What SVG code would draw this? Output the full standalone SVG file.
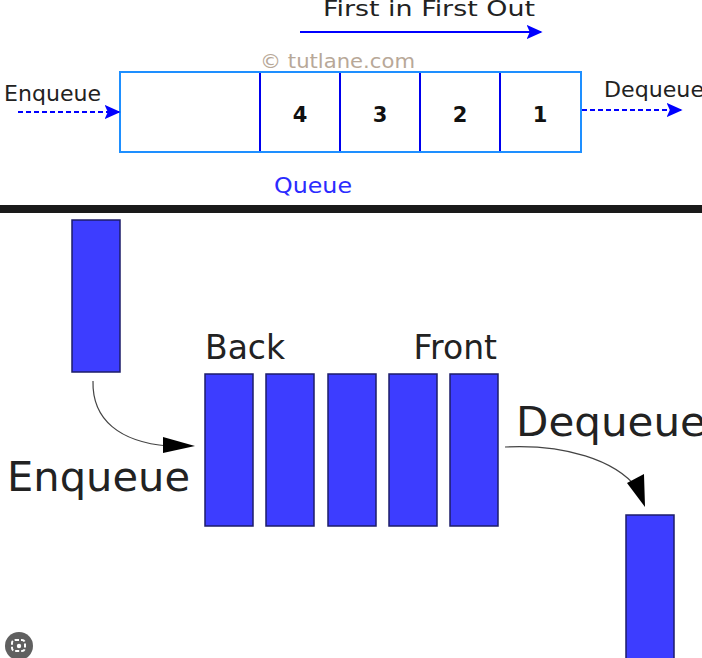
<svg xmlns="http://www.w3.org/2000/svg" width="702" height="658" viewBox="0 0 702 658">
<style>
.top{font-family:"DejaVu Sans","Liberation Sans",sans-serif;fill:#222}
.num{font-family:"DejaVu Sans","Liberation Sans",sans-serif;font-weight:bold;font-size:21px;fill:#111;text-anchor:middle}
.bot{font-family:"DejaVu Sans","Liberation Sans",sans-serif;fill:#222}
.bar{fill:#3d3dff;stroke:#1c1c6a;stroke-width:1.5}
.curve{fill:none;stroke:#444;stroke-width:1.2}
</style>
<defs>
<marker id="ab" viewBox="0 0 10 10" refX="9" refY="5" markerWidth="8" markerHeight="8" markerUnits="strokeWidth" orient="auto"><path d="M0,0.5 L10,5 L0,9.5 L2,5 z" fill="#0000ff"/></marker>
</defs>
<rect width="702" height="658" fill="#fff"/>

<!-- top diagram -->
<text class="top" x="323" y="16" font-size="22" textLength="212" lengthAdjust="spacingAndGlyphs">First in First Out</text>
<text x="260" y="68" font-family="DejaVu Sans,sans-serif" font-size="19" fill="#b8a898" textLength="155" lengthAdjust="spacingAndGlyphs">© tutlane.com</text>
<g id="queue-box">
<rect x="120" y="72" width="461" height="80" fill="#fff" stroke="#1e8fff" stroke-width="2"/>
<line x1="260" y1="73" x2="260" y2="151" stroke="#0000ee" stroke-width="2"/>
<line x1="340" y1="73" x2="340" y2="151" stroke="#0000ee" stroke-width="2"/>
<line x1="420" y1="73" x2="420" y2="151" stroke="#0000ee" stroke-width="2"/>
<line x1="500" y1="73" x2="500" y2="151" stroke="#0000ee" stroke-width="2"/>
<text class="num" x="300" y="122">4</text>
<text class="num" x="380" y="122">3</text>
<text class="num" x="460" y="122">2</text>
<text class="num" x="540" y="122">1</text>
</g>
<text class="top" x="4" y="101" font-size="22" textLength="97" lengthAdjust="spacingAndGlyphs">Enqueue</text>
<text class="top" x="604" y="97" font-size="22" textLength="100" lengthAdjust="spacingAndGlyphs">Dequeue</text>
<text x="313" y="193" font-family="DejaVu Sans,sans-serif" font-size="21" fill="#2b2bff" text-anchor="middle" textLength="78" lengthAdjust="spacingAndGlyphs">Queue</text>
<g id="top-connectors">
<line x1="300" y1="32" x2="541" y2="32" stroke="#0000ff" stroke-width="2" marker-end="url(#ab)"/>
<line x1="18" y1="112" x2="119" y2="112" stroke="#0000ff" stroke-width="2" stroke-dasharray="5,3" marker-end="url(#ab)"/>
<line x1="582" y1="110" x2="681" y2="110" stroke="#0000ff" stroke-width="2" stroke-dasharray="5,3" marker-end="url(#ab)"/>
</g>

<!-- divider -->
<rect x="0" y="205" width="702" height="8" fill="#1a1a1a"/>

<!-- bottom diagram -->
<g id="incoming"><rect class="bar" x="72" y="220" width="48" height="152"/></g>
<g id="q1"><rect class="bar" x="205" y="374" width="48" height="152"/></g>
<g id="q2"><rect class="bar" x="266" y="374" width="48" height="152"/></g>
<g id="q3"><rect class="bar" x="328" y="374" width="48" height="152"/></g>
<g id="q4"><rect class="bar" x="389" y="374" width="48" height="152"/></g>
<g id="q5"><rect class="bar" x="450" y="374" width="48" height="152"/></g>
<g id="outgoing"><rect class="bar" x="626" y="515" width="48" height="150"/></g>
<text class="bot" x="205" y="359" font-size="33">Back</text>
<text class="bot" x="497" y="359" font-size="33" text-anchor="end">Front</text>
<text class="bot" x="7" y="491" font-size="41" textLength="183" lengthAdjust="spacingAndGlyphs">Enqueue</text>
<text class="bot" x="516" y="436" font-size="41" textLength="190" lengthAdjust="spacingAndGlyphs">Dequeue</text>
<g id="bottom-connectors">
<path class="curve" d="M93,381 C92,420 120,442 168,446"/>
<path d="M163,437 L195,446 L163,453 z" fill="#000"/>
<path class="curve" d="M505,447 C565,444 615,460 637,488"/>
<path d="M627,483 L644,474 L645,507 z" fill="#000"/>
</g>

<circle cx="19" cy="646" r="14" fill="#606060"/>
<rect x="12" y="640" width="13" height="11" rx="3" fill="none" stroke="#fff" stroke-width="2" stroke-dasharray="4,2"/>
<circle cx="19" cy="646" r="2.2" fill="#fff"/>
</svg>
